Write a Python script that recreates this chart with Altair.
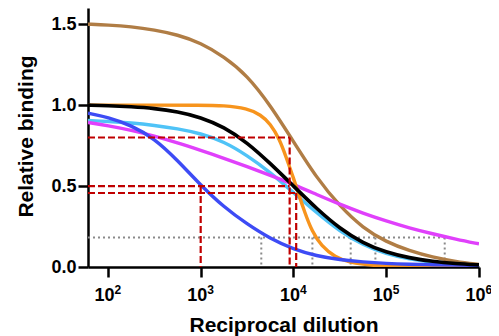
import altair as alt
import pandas as pd

FONT = "Liberation Sans"

# Reciprocal dilution grid (x) shared by most curves
grid_x = [61, 100, 178, 316, 562, 1000, 1778, 3162, 5623, 10000, 17783,
          31623, 56234, 100000, 177828, 316228, 562341, 1000000]

brown_y = [1.50, 1.495, 1.485, 1.465, 1.435, 1.385, 1.30, 1.185, 1.0, 0.775,
           0.55, 0.375, 0.24, 0.155, 0.1, 0.06, 0.034, 0.015]
lightblue_y = [0.905, 0.90, 0.89, 0.875, 0.855, 0.825, 0.775, 0.69, 0.585, 0.46,
               0.335, 0.22, 0.135, 0.08, 0.048, 0.028, 0.017, 0.01]
magenta_y = [0.893, 0.873, 0.845, 0.81, 0.767, 0.72, 0.672, 0.62, 0.566, 0.51,
             0.448, 0.387, 0.332, 0.284, 0.241, 0.205, 0.172, 0.143]
blue_y = [0.95, 0.925, 0.875, 0.795, 0.66, 0.505, 0.37, 0.265, 0.175, 0.11,
          0.068, 0.045, 0.031, 0.022, 0.017, 0.014, 0.012, 0.01]
black_y = [1.0, 0.997, 0.99, 0.98, 0.96, 0.925, 0.865, 0.77, 0.64, 0.50,
           0.36, 0.237, 0.147, 0.09, 0.056, 0.034, 0.021, 0.013]

orange_x = [61, 316, 1000, 1778, 3162, 4467, 5623, 7079, 8318, 10000, 11220,
            13183, 15849, 19953, 28184, 39811, 70795, 158489, 1000000]
orange_y = [1.0, 1.0, 1.0, 0.998, 0.98, 0.94, 0.885, 0.79, 0.68, 0.55, 0.46,
            0.34, 0.22, 0.13, 0.06, 0.028, 0.008, 0.002, 0.0]

# Red dashed guide segments
red_x1 = [61, 61, 61, 9100, 10700, 1000]
red_x2 = [9100, 9100, 10700, 9100, 10700, 1000]
red_y1 = [0.8, 0.5, 0.457, 0.8, 0.457, 0.5]
red_y2 = [0.8, 0.5, 0.457, 0.0, 0.0, 0.0]

# Grey dotted guide segments
gray_x1 = [61, 4500, 16000, 41400, 76400, 427000]
gray_x2 = [427000, 4500, 16000, 41400, 76400, 427000]
gray_y1 = [0.183, 0.183, 0.183, 0.183, 0.183, 0.183]
gray_y2 = [0.183, 0.0, 0.0, 0.0, 0.0, 0.0]

tick_vals = [100, 1000, 10000, 100000, 1000000]
y_ticks = [0.0, 0.5, 1.0, 1.5]

xscale = alt.Scale(type="log", domain=[61, 1000000], nice=False)
yscale = alt.Scale(domain=[0, 1.6], nice=False, zero=False)

xaxis = alt.Axis(
    values=tick_vals, labelExpr="'10'", title="Reciprocal dilution",
    titleFont=FONT, titleFontSize=21, titleFontWeight="bold", titleColor="black",
    titleY=64, titleBaseline="alphabetic",
    labelFont=FONT, labelFontSize=18, labelFontWeight="bold", labelColor="black",
    labelAlign="right", labelOffset=6, labelBaseline="alphabetic", labelPadding=23,
    tickSize=10, tickWidth=2.5, tickColor="black",
    domainColor="black", domainWidth=2.5, grid=False,
    labelFlush=False, labelOverlap=False,
)
expaxis = alt.Axis(
    values=tick_vals, labelExpr="'' + round(log(datum.value) / LN10)",
    orient="bottom", title=None, domain=False, grid=False,
    ticks=True, tickSize=10, tickOpacity=0,
    labelFont=FONT, labelFontSize=12, labelFontWeight="bold", labelColor="black",
    labelAlign="left", labelOffset=6, labelBaseline="alphabetic", labelPadding=16,
    labelFlush=False, labelOverlap=False,
)
yaxis = alt.Axis(
    values=y_ticks, format=".1f", title="Relative binding",
    titleFont=FONT, titleFontSize=21, titleFontWeight="bold", titleColor="black",
    titleX=-56, titleY=128, titleAngle=-90, titleAlign="center",
    titleBaseline="alphabetic",
    labelFont=FONT, labelFontSize=18, labelFontWeight="bold", labelColor="black",
    labelPadding=2, tickSize=10, tickWidth=2.5, tickColor="black",
    domainColor="black", domainWidth=2.5, grid=False,
    labelFlush=False, labelOverlap=False,
)


def curve(xs, ys, color, width=3.4):
    df = pd.DataFrame({"dilution": xs, "binding": ys})
    return alt.Chart(df).mark_line(
        color=color, strokeWidth=width, interpolate="basis", clip=True
    ).encode(
        x=alt.X("dilution:Q", scale=xscale, axis=xaxis),
        y=alt.Y("binding:Q", scale=yscale, axis=yaxis),
    )


def segments(x1, x2, y1, y2, color, dash, width):
    df = pd.DataFrame({"x1": x1, "x2": x2, "y1": y1, "y2": y2})
    return alt.Chart(df).mark_rule(
        color=color, strokeDash=dash, strokeWidth=width
    ).encode(
        x=alt.X("x1:Q", scale=xscale, axis=xaxis),
        x2="x2:Q",
        y=alt.Y("y1:Q", scale=yscale, axis=yaxis),
        y2="y2:Q",
    )


gray = segments(gray_x1, gray_x2, gray_y1, gray_y2, "#8a8a8a", [2, 3], 2)
red = segments(red_x1, red_x2, red_y1, red_y2, "#c00000", [7, 3], 2.2)

main = alt.layer(
    gray,
    curve(grid_x, brown_y, "#b07d45"),
    curve(grid_x, lightblue_y, "#4fc3f7"),
    curve(grid_x, magenta_y, "#e040fb"),
    curve(orange_x, orange_y, "#f7941d"),
    curve(grid_x, blue_y, "#3d4bf5"),
    curve(grid_x, black_y, "#000000", 3.6),
    red,
)

exp_df = pd.DataFrame({"tick": tick_vals})
exps = alt.Chart(exp_df).mark_point(opacity=0).encode(
    x=alt.X("tick:Q", scale=xscale, axis=expaxis),
    y=alt.value(0),
)

chart = alt.layer(main, exps).resolve_axis(x="independent").properties(
    width=391, height=259,
    autosize=alt.AutoSizeParams(type="none"),
    padding={"left": 80, "top": 0, "right": 12, "bottom": 69},
    background="white",
).configure_view(stroke=None)

chart.save("out.html", embed_options={"renderer": "svg", "actions": False})
